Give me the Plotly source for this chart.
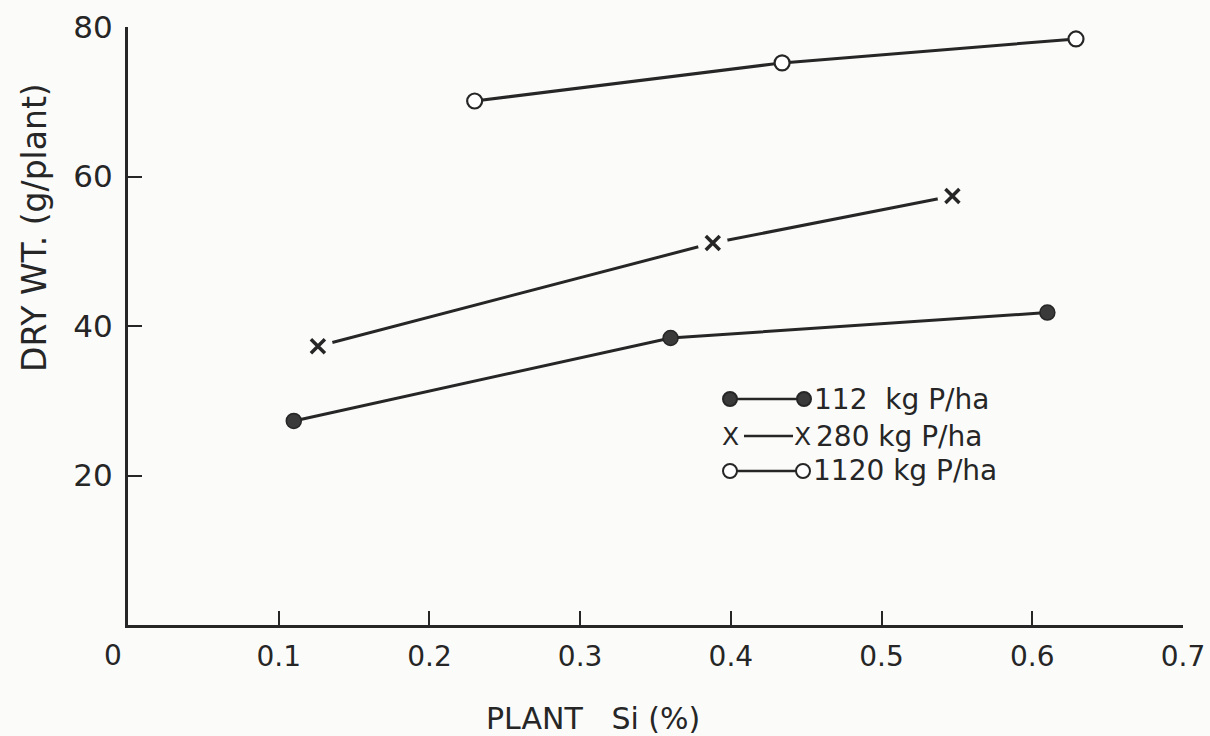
import plotly.graph_objects as go

# Plant silicon content (%) and dry weight (g/plant) at three P rates
si_112 = [0.11, 0.36, 0.61]
wt_112 = [27.3, 38.4, 41.8]

si_280 = [0.126, 0.388, 0.547]
wt_280 = [37.3, 51.1, 57.4]

si_1120 = [0.23, 0.434, 0.629]
wt_1120 = [70.1, 75.2, 78.4]

x_ticks = [0.1, 0.2, 0.3, 0.4, 0.5, 0.6, 0.7]
y_ticks = [20, 40, 60, 80]

INK = "#262626"
BG = "#fbfbfa"
FONT = "DejaVu Sans"

fig = go.Figure()

# 112 kg P/ha: filled circles
fig.add_trace(go.Scatter(
    x=si_112, y=wt_112, mode="lines+markers",
    line=dict(color=INK, width=3),
    marker=dict(symbol="circle", size=15, color="#3a3a3a",
                line=dict(color=INK, width=1.5)),
    showlegend=False, hoverinfo="skip"))

# 280 kg P/ha: line with gaps around the X markers
fig.add_trace(go.Scatter(
    x=si_280, y=wt_280, mode="lines",
    line=dict(color=INK, width=3),
    showlegend=False, hoverinfo="skip"))
fig.add_trace(go.Scatter(
    x=si_280, y=wt_280, mode="markers",
    marker=dict(symbol="circle", size=30, color=BG, line=dict(width=0)),
    showlegend=False, hoverinfo="skip"))
fig.add_trace(go.Scatter(
    x=si_280, y=wt_280, mode="markers",
    marker=dict(symbol="x-thin", size=14, line=dict(color=INK, width=3.5)),
    showlegend=False, hoverinfo="skip"))

# 1120 kg P/ha: open circles
fig.add_trace(go.Scatter(
    x=si_1120, y=wt_1120, mode="lines+markers",
    line=dict(color=INK, width=3),
    marker=dict(symbol="circle", size=15, color="white",
                line=dict(color=INK, width=2.2)),
    showlegend=False, hoverinfo="skip"))

# Hand-drawn key inside the plot area (paper coordinates)
L, R, T, B = 128, 1183, 27, 625


def px(x):
    return (x - L) / (R - L)


def py(y):
    return (B - y) / (B - T)


shapes = []
annotations = []
key_rows = [
    ("filled", 399, 730, 804, "112  kg P/ha", 812),
    ("x", 436, 730, 803, "280 kg P/ha", 814),
    ("open", 471, 730, 803, "1120 kg P/ha", 811),
]
for kind, yy, x0, x1, label, tx in key_rows:
    if kind == "x":
        shapes.append(dict(type="line", xref="paper", yref="paper",
                           x0=px(x0 + 14), x1=px(x1 - 10), y0=py(yy), y1=py(yy),
                           line=dict(color=INK, width=2.5)))
        for cx in (x0, x1):
            annotations.append(dict(xref="paper", yref="paper", x=px(cx), y=py(yy),
                                    xanchor="center", yanchor="middle",
                                    text="X", showarrow=False,
                                    font=dict(family=FONT, size=25, color=INK)))
    else:
        shapes.append(dict(type="line", xref="paper", yref="paper",
                           x0=px(x0), x1=px(x1), y0=py(yy), y1=py(yy),
                           line=dict(color=INK, width=2.5)))
        for cx in (x0, x1):
            shapes.append(dict(type="circle", xref="paper", yref="paper",
                               x0=px(cx - 7), x1=px(cx + 7),
                               y0=py(yy + 7), y1=py(yy - 7),
                               fillcolor="#3a3a3a" if kind == "filled" else "white",
                               line=dict(color=INK, width=2)))
    annotations.append(dict(xref="paper", yref="paper", x=px(tx), y=py(yy),
                            xanchor="left", yanchor="middle", text=label,
                            showarrow=False,
                            font=dict(family=FONT, size=28, color=INK)))

# Shared origin label
annotations.append(dict(xref="paper", yref="paper", x=px(113), y=py(655),
                        xanchor="center", yanchor="middle",
                        text="0", showarrow=False,
                        font=dict(family=FONT, size=28, color=INK)))
# Axis titles
annotations.append(dict(xref="paper", yref="paper", x=px(593), y=py(718),
                        xanchor="center", yanchor="middle",
                        text="PLANT&nbsp;&nbsp;&nbsp;Si (%)", showarrow=False,
                        font=dict(family=FONT, size=30, color=INK)))
annotations.append(dict(xref="paper", yref="paper", x=px(34), y=py(228),
                        xanchor="center", yanchor="middle",
                        text="DRY WT. (g/plant)", showarrow=False, textangle=-90,
                        font=dict(family=FONT, size=33, color=INK)))

fig.update_layout(
    width=1210, height=736,
    margin=dict(l=L, r=1210 - R, t=T, b=736 - B, autoexpand=False),
    paper_bgcolor=BG, plot_bgcolor=BG,
    font=dict(family=FONT, color=INK, size=22),
    shapes=shapes, annotations=annotations,
    xaxis=dict(range=[0, 0.7], tickvals=x_ticks,
               ticktext=[str(v) for v in x_ticks], automargin=False,
               ticks="inside", ticklen=14, tickwidth=2, tickcolor=INK,
               showline=True, linecolor=INK, linewidth=3,
               showgrid=False, zeroline=False, ticklabelstandoff=4,
               tickfont=dict(family=FONT, size=28)),
    yaxis=dict(range=[0, 80], tickvals=y_ticks, automargin=False,
               ticks="inside", ticklen=14, tickwidth=2, tickcolor=INK,
               showline=True, linecolor=INK, linewidth=3,
               showgrid=False, zeroline=False, ticklabelstandoff=6,
               tickfont=dict(family=FONT, size=31)),
)

fig.write_html("out.html")
